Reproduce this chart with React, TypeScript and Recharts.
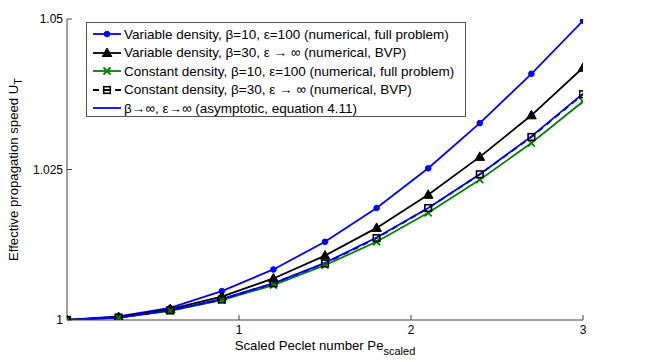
import React from "react"
import { LineChart, Line, XAxis, YAxis, Legend, Label } from "recharts"

// scaled Peclet number sample points
const peScaled = [0, 0.3, 0.6, 0.9, 1.2, 1.5, 1.8, 2.1, 2.4, 2.7, 3.0]

// effective propagation speed U_T for each case
const varDens10 = [1, 1.0006, 1.002, 1.0048, 1.0084, 1.013, 1.0186, 1.0252, 1.0327, 1.0409, 1.0497]
const varDens30 = [1, 1.0005, 1.0018, 1.0039, 1.0069, 1.0107, 1.0153, 1.0208, 1.0271, 1.034, 1.0419]
const constDens10 = [1, 1.0004, 1.0015, 1.0033, 1.0058, 1.0091, 1.013, 1.0178, 1.0233, 1.0294, 1.0363]
const constDens30 = [1, 1.0004, 1.0016, 1.0034, 1.0061, 1.0094, 1.0136, 1.0186, 1.0242, 1.0304, 1.0375]
const asymptotic = [1, 1.0004, 1.0016, 1.0035, 1.0061, 1.0095, 1.0137, 1.0186, 1.0242, 1.0305, 1.0376]

const xTicks = [1, 2, 3]
const yTicks = [1, 1.025, 1.05]

const legendLabels = [
    "Variable density, β=10, ε=100 (numerical, full problem)",
    "Variable density, β=30, ε → ∞ (numerical, BVP)",
    "Constant density, β=10, ε=100 (numerical, full problem)",
    "Constant density, β=30, ε → ∞ (numerical, BVP)",
    "β→∞, ε→∞ (asymptotic, equation 4.11)",
]

const data = peScaled.map((pe, i) => ({
    pe,
    varDens10: varDens10[i],
    varDens30: varDens30[i],
    constDens10: constDens10[i],
    constDens30: constDens30[i],
    asymptotic: asymptotic[i],
}))

const BLUE = "#0000ff"
const GREEN = "#008000"
const AXIS = "#404040"
const FONT = "'Liberation Sans', Arial, Helvetica, sans-serif"

// marker shapes (MATLAB style)
const dotMarker = (cx: number, cy: number, key?: string) => (
    <circle key={key} cx={cx} cy={cy} r={2.8} fill={BLUE} stroke={BLUE} />
)
const triangleMarker = (cx: number, cy: number, key?: string) => (
    <polygon key={key} points={`${cx},${cy - 5} ${cx - 4.8},${cy + 3.5} ${cx + 4.8},${cy + 3.5}`} fill="#000" stroke="#000" />
)
const crossMarker = (cx: number, cy: number, key?: string) => (
    <path
        key={key}
        d={`M${cx - 3.5},${cy - 3.5}L${cx + 3.5},${cy + 3.5}M${cx - 3.5},${cy + 3.5}L${cx + 3.5},${cy - 3.5}`}
        stroke={GREEN}
        strokeWidth={1.8}
    />
)
const squareMarker = (cx: number, cy: number, key?: string) => (
    <rect key={key} x={cx - 3.3} y={cy - 3.3} width={6.6} height={6.6} fill="none" stroke="#000" strokeWidth={1.6} />
)

const emptyTick = () => <g />

const legendSamples = [
    { color: BLUE, dash: undefined, marker: dotMarker },
    { color: "#000", dash: undefined, marker: triangleMarker },
    { color: GREEN, dash: undefined, marker: crossMarker },
    { color: "#000", dash: "6 5", marker: squareMarker },
    { color: BLUE, dash: undefined, marker: null },
]

const renderLegend = () => (
    <div
        style={{
            border: "1px solid #555",
            background: "#fff",
            width: 380,
            height: 95,
            paddingTop: 2,
            boxSizing: "border-box",
            fontFamily: FONT,
            fontSize: 13.5,
        }}
    >
        {legendLabels.map((label, i) => {
            const s = legendSamples[i]
            return (
                <div key={label} style={{ display: "flex", alignItems: "center", height: 18.5 }}>
                    <svg width={37} height={18} style={{ flex: "none" }}>
                        <line x1={6} x2={34} y1={9} y2={9} stroke={s.color} strokeWidth={1.8} strokeDasharray={s.dash} />
                        {s.marker && s.marker(20, 9)}
                    </svg>
                    <span style={{ whiteSpace: "nowrap", color: "#000" }}>{label}</span>
                </div>
            )
        })}
    </div>
)

// eslint-disable-next-line
const xLabel = (props: any) => {
    const vb = props.viewBox
    return (
        <text x={vb.x + vb.width / 2} y={vb.y + 30} textAnchor="middle" fontFamily={FONT} fontSize={13.2} fill="#000">
            Scaled Peclet number Pe
            <tspan fontSize={11} dy={5}>scaled</tspan>
        </text>
    )
}

// eslint-disable-next-line
const yLabel = (props: any) => {
    const vb = props.viewBox
    const x = 18
    const y = vb.y + vb.height / 2
    return (
        <text x={x} y={y} transform={`rotate(-90, ${x}, ${y})`} textAnchor="middle" fontFamily={FONT} fontSize={13.2} fill="#000">
            Effective propagation speed U
            <tspan fontSize={11} dy={4}>T</tspan>
        </text>
    )
}

const tickStyle = { fill: "#000", fontSize: 12, fontFamily: FONT }

export default function App() {
    return (
        <div style={{ position: "absolute", left: 0, top: 0, background: "#fff" }}>
            <LineChart width={646} height={362} data={data} margin={{ top: 19, right: 63, bottom: 12, left: 7 }}>
                <XAxis
                    xAxisId="main"
                    dataKey="pe"
                    type="number"
                    domain={[0, 3]}
                    ticks={xTicks}
                    height={30}
                    tickSize={-5}
                    tickMargin={10}
                    tick={tickStyle}
                    stroke={AXIS}
                    allowDataOverflow
                >
                    <Label content={xLabel} />
                </XAxis>
                <XAxis
                    xAxisId="top"
                    orientation="top"
                    dataKey="pe"
                    type="number"
                    domain={[0, 3]}
                    ticks={xTicks}
                    height={0}
                    tickSize={-5}
                    tick={emptyTick}
                    stroke={AXIS}
                />
                <YAxis
                    yAxisId="main"
                    type="number"
                    domain={[1, 1.05]}
                    ticks={yTicks}
                    width={60}
                    tickSize={-5}
                    tickMargin={9}
                    tick={tickStyle}
                    stroke={AXIS}
                    allowDataOverflow
                >
                    <Label content={yLabel} />
                </YAxis>
                <YAxis
                    yAxisId="right"
                    orientation="right"
                    type="number"
                    domain={[1, 1.05]}
                    ticks={yTicks}
                    width={0}
                    tickSize={-5}
                    tick={emptyTick}
                    stroke={AXIS}
                />
                <Line
                    xAxisId="main"
                    yAxisId="main"
                    dataKey="varDens10"
                    stroke={BLUE}
                    strokeWidth={1.8}
                    // eslint-disable-next-line
                    dot={(p: any) => dotMarker(p.cx, p.cy, `a${p.index}`)}
                    activeDot={false}
                    isAnimationActive={false}
                />
                <Line
                    xAxisId="main"
                    yAxisId="main"
                    dataKey="varDens30"
                    stroke="#000"
                    strokeWidth={1.8}
                    // eslint-disable-next-line
                    dot={(p: any) => triangleMarker(p.cx, p.cy, `b${p.index}`)}
                    activeDot={false}
                    isAnimationActive={false}
                />
                <Line
                    xAxisId="main"
                    yAxisId="main"
                    dataKey="constDens10"
                    stroke={GREEN}
                    strokeWidth={1.8}
                    // eslint-disable-next-line
                    dot={(p: any) => crossMarker(p.cx, p.cy, `c${p.index}`)}
                    activeDot={false}
                    isAnimationActive={false}
                />
                <Line
                    xAxisId="main"
                    yAxisId="main"
                    dataKey="constDens30"
                    stroke="#000"
                    strokeWidth={1.8}
                    strokeDasharray="6 5"
                    // eslint-disable-next-line
                    dot={(p: any) => squareMarker(p.cx, p.cy, `d${p.index}`)}
                    activeDot={false}
                    isAnimationActive={false}
                />
                <Line
                    xAxisId="main"
                    yAxisId="main"
                    dataKey="asymptotic"
                    stroke={BLUE}
                    strokeWidth={1.8}
                    dot={false}
                    activeDot={false}
                    isAnimationActive={false}
                />
                <Legend
                    layout="horizontal"
                    verticalAlign="middle"
                    align="center"
                    content={renderLegend}
                    wrapperStyle={{ position: "absolute", left: 86, top: 22, width: 380, height: 95 }}
                />
            </LineChart>
        </div>
    )
}
